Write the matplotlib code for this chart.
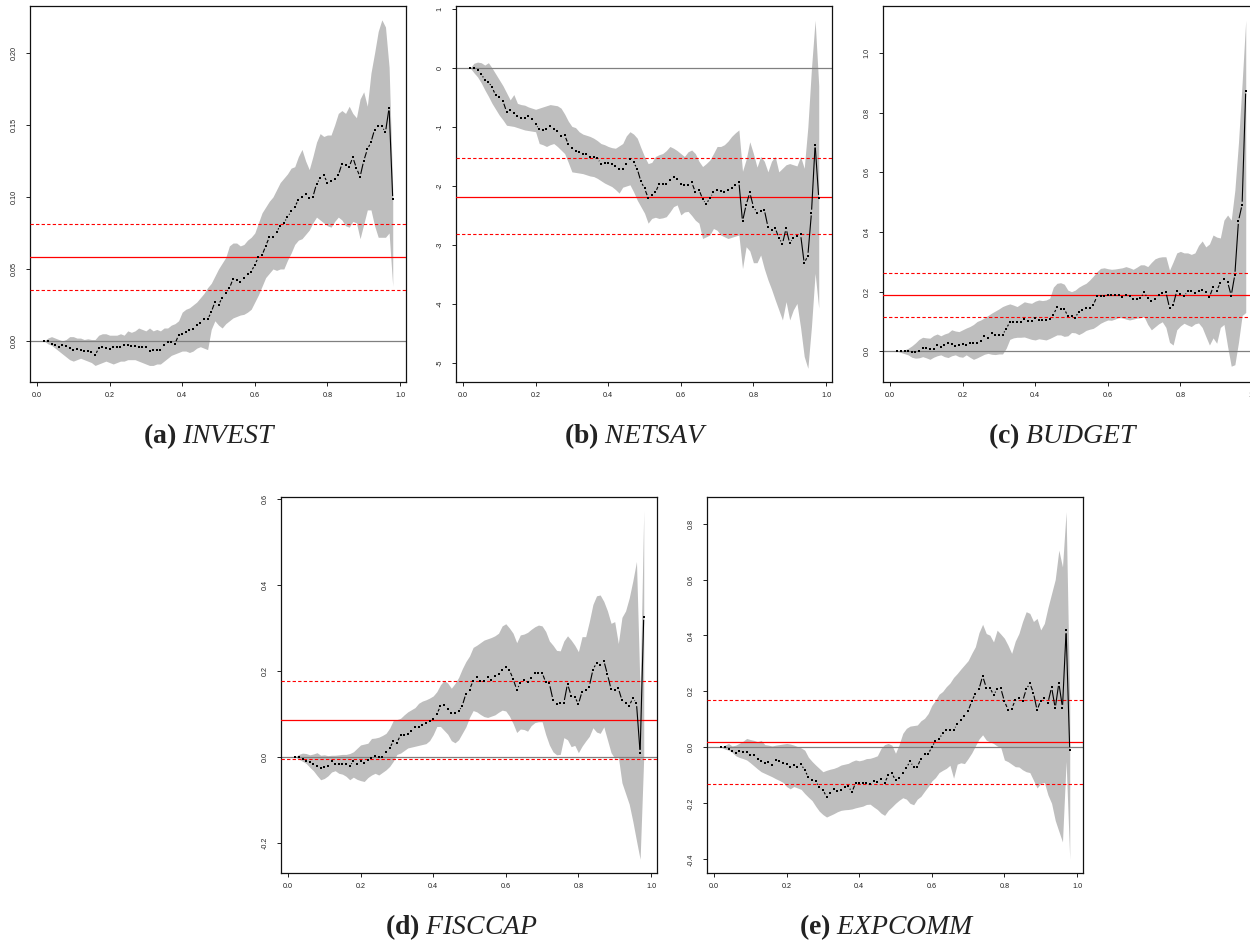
import numpy as np
import matplotlib
matplotlib.use("Agg")
import matplotlib.pyplot as plt
from matplotlib.collections import LineCollection
from matplotlib.transforms import IdentityTransform

plt.rcParams['axes.unicode_minus'] = False
plt.rcParams['mathtext.fontset'] = 'custom'
plt.rcParams['mathtext.rm'] = 'Liberation Serif'
plt.rcParams['mathtext.it'] = 'Liberation Serif:italic'
plt.rcParams['mathtext.bf'] = 'Liberation Serif:bold'

# ---------------- data ----------------
quantiles = np.round(np.arange(2, 99) / 100, 2)   # 0.02 ... 0.98

invest_est = [0.000, 0.000, -0.002, -0.003, -0.004, -0.003, -0.0035, -0.005, -0.006, -0.0055,
              -0.006, -0.007, -0.007, -0.0076, -0.010, -0.005, -0.0044, -0.005, -0.0053, -0.0044,
              -0.004, -0.004, -0.0025, -0.003, -0.0037, -0.0037, -0.004, -0.004, -0.004, -0.007,
              -0.006, -0.006, -0.006, -0.003, -0.001, -0.001, -0.002, 0.004, 0.0046, 0.0065,
              0.0074, 0.0086, 0.011, 0.0125, 0.015, 0.015, 0.020, 0.027, 0.025, 0.030,
              0.033, 0.0366, 0.043, 0.042, 0.041, 0.044, 0.0465, 0.048, 0.053, 0.058,
              0.0595, 0.066, 0.072, 0.0725, 0.0757, 0.080, 0.082, 0.086, 0.090, 0.093,
              0.098, 0.100, 0.102, 0.0995, 0.100, 0.109, 0.113, 0.115, 0.110, 0.111,
              0.1125, 0.115, 0.123, 0.122, 0.121, 0.1275, 0.120, 0.114, 0.125, 0.133,
              0.138, 0.1468, 0.1495, 0.149, 0.145, 0.162, 0.0986]
invest_hi = [0.000, 0.002, 0.003, 0.002, 0.001, 0.000, 0.001, 0.003, 0.003, 0.002,
             0.002, 0.001, 0.0015, 0.001, 0.001, 0.004, 0.005, 0.005, 0.004, 0.004,
             0.004, 0.005, 0.004, 0.007, 0.006, 0.007, 0.009, 0.008, 0.007, 0.009,
             0.007, 0.008, 0.007, 0.009, 0.009, 0.011, 0.012, 0.014, 0.020, 0.022,
             0.023, 0.025, 0.027, 0.030, 0.033, 0.037, 0.040, 0.045, 0.050, 0.054,
             0.058, 0.066, 0.068, 0.068, 0.066, 0.067, 0.070, 0.072, 0.075, 0.082,
             0.089, 0.093, 0.097, 0.100, 0.105, 0.110, 0.113, 0.116, 0.120, 0.121,
             0.128, 0.133, 0.125, 0.119, 0.128, 0.138, 0.144, 0.142, 0.143, 0.143,
             0.150, 0.158, 0.160, 0.158, 0.163, 0.158, 0.155, 0.168, 0.173, 0.163,
             0.186, 0.200, 0.215, 0.223, 0.218, 0.190, 0.105]
invest_lo = [0.000, -0.002, -0.003, -0.005, -0.007, -0.009, -0.011, -0.013, -0.014, -0.013,
             -0.012, -0.013, -0.014, -0.015, -0.017, -0.016, -0.015, -0.014, -0.015, -0.016,
             -0.015, -0.014, -0.014, -0.013, -0.013, -0.013, -0.014, -0.015, -0.016, -0.017,
             -0.017, -0.016, -0.016, -0.014, -0.012, -0.010, -0.009, -0.008, -0.007, -0.007,
             -0.008, -0.007, -0.005, -0.004, -0.005, -0.006, 0.008, 0.014, 0.011, 0.009,
             0.012, 0.014, 0.016, 0.017, 0.018, 0.0185, 0.020, 0.022, 0.027, 0.032,
             0.038, 0.044, 0.047, 0.050, 0.049, 0.050, 0.050, 0.056, 0.061, 0.067,
             0.070, 0.071, 0.074, 0.077, 0.082, 0.086, 0.084, 0.082, 0.080, 0.079,
             0.083, 0.086, 0.084, 0.080, 0.079, 0.083, 0.082, 0.071, 0.081, 0.091,
             0.091, 0.080, 0.072, 0.072, 0.072, 0.075, 0.038]
invest_ref = [0.0815, 0.0583, 0.0352]   # upper, mean, lower

netsav_est = [0.00, 0.00, -0.04, -0.10, -0.20, -0.23, -0.33, -0.46, -0.49, -0.56,
              -0.74, -0.71, -0.77, -0.82, -0.85, -0.84, -0.82, -0.87, -0.95, -1.04,
              -1.05, -1.03, -0.99, -1.03, -1.07, -1.15, -1.14, -1.29, -1.36, -1.40,
              -1.42, -1.45, -1.45, -1.50, -1.51, -1.53, -1.62, -1.61, -1.61, -1.63,
              -1.66, -1.71, -1.71, -1.63, -1.55, -1.60, -1.71, -1.92, -2.04, -2.20,
              -2.16, -2.11, -1.97, -1.96, -1.97, -1.89, -1.84, -1.88, -1.96, -1.98,
              -1.99, -1.94, -2.10, -2.06, -2.22, -2.31, -2.20, -2.11, -2.07, -2.08,
              -2.10, -2.07, -2.03, -1.98, -1.93, -2.60, -2.32, -2.11, -2.35, -2.45,
              -2.42, -2.40, -2.69, -2.75, -2.71, -2.88, -2.98, -2.72, -2.97, -2.88,
              -2.84, -2.82, -3.31, -3.18, -2.45, -1.30, -2.20]
netsav_hi = [0.00, 0.08, 0.10, 0.09, 0.05, 0.09, 0.00, -0.10, -0.20, -0.30,
             -0.42, -0.54, -0.45, -0.60, -0.62, -0.63, -0.66, -0.68, -0.70, -0.68,
             -0.66, -0.64, -0.62, -0.63, -0.64, -0.68, -0.78, -0.90, -0.99, -1.01,
             -1.08, -1.12, -1.14, -1.16, -1.19, -1.23, -1.28, -1.30, -1.33, -1.35,
             -1.36, -1.32, -1.28, -1.15, -1.08, -1.12, -1.19, -1.35, -1.50, -1.62,
             -1.60, -1.50, -1.47, -1.45, -1.40, -1.33, -1.36, -1.40, -1.45, -1.50,
             -1.42, -1.39, -1.45, -1.58, -1.67, -1.62, -1.56, -1.45, -1.33, -1.33,
             -1.30, -1.24, -1.16, -1.10, -1.05, -1.75, -1.55, -1.25, -1.45, -1.68,
             -1.50, -1.58, -1.76, -1.58, -1.50, -1.76, -1.70, -1.64, -1.62, -1.64,
             -1.66, -1.50, -1.70, -1.00, 0.00, 0.81, -0.30]
netsav_lo = [0.00, -0.08, -0.15, -0.25, -0.37, -0.48, -0.60, -0.70, -0.80, -0.88,
             -0.97, -0.98, -0.99, -1.01, -1.03, -1.05, -1.06, -1.07, -1.08, -1.28,
             -1.30, -1.33, -1.30, -1.28, -1.33, -1.39, -1.45, -1.60, -1.76, -1.77,
             -1.78, -1.79, -1.81, -1.83, -1.84, -1.87, -1.91, -1.95, -1.98, -2.01,
             -2.06, -2.12, -2.02, -2.00, -1.98, -2.10, -2.24, -2.35, -2.46, -2.63,
             -2.55, -2.53, -2.55, -2.54, -2.52, -2.44, -2.35, -2.32, -2.49, -2.44,
             -2.43, -2.50, -2.58, -2.63, -2.89, -2.86, -2.83, -2.72, -2.75, -2.83,
             -2.86, -2.89, -2.87, -2.85, -2.83, -3.40, -3.03, -3.10, -3.30, -3.30,
             -3.17, -3.40, -3.59, -3.75, -3.93, -4.10, -4.27, -3.96, -4.27, -4.10,
             -3.99, -4.40, -4.89, -5.09, -4.38, -3.48, -4.07]
netsav_ref = [-1.53, -2.18, -2.82]

budget_est = [0.000, 0.000, 0.000, 0.000, -0.002, -0.001, 0.001, 0.012, 0.011, 0.008,
              0.007, 0.020, 0.015, 0.020, 0.028, 0.023, 0.019, 0.020, 0.026, 0.020,
              0.029, 0.029, 0.028, 0.036, 0.051, 0.046, 0.063, 0.053, 0.053, 0.055,
              0.075, 0.098, 0.098, 0.098, 0.098, 0.107, 0.102, 0.102, 0.110, 0.105,
              0.105, 0.105, 0.107, 0.123, 0.147, 0.142, 0.142, 0.118, 0.118, 0.112,
              0.133, 0.140, 0.144, 0.144, 0.155, 0.184, 0.185, 0.185, 0.189, 0.190,
              0.190, 0.188, 0.181, 0.190, 0.184, 0.177, 0.174, 0.178, 0.198, 0.178,
              0.169, 0.175, 0.188, 0.196, 0.199, 0.146, 0.155, 0.202, 0.192, 0.184,
              0.202, 0.202, 0.196, 0.202, 0.206, 0.199, 0.182, 0.215, 0.203, 0.230,
              0.244, 0.232, 0.187, 0.257, 0.437, 0.492, 0.874]
budget_hi = [0.000, 0.002, 0.005, 0.010, 0.018, 0.028, 0.040, 0.047, 0.045, 0.044,
             0.053, 0.058, 0.052, 0.058, 0.062, 0.072, 0.068, 0.066, 0.072, 0.078,
             0.083, 0.090, 0.100, 0.105, 0.112, 0.120, 0.128, 0.135, 0.142, 0.150,
             0.155, 0.159, 0.155, 0.150, 0.158, 0.166, 0.163, 0.161, 0.168, 0.172,
             0.170, 0.172, 0.178, 0.215, 0.228, 0.230, 0.225, 0.205, 0.200, 0.205,
             0.215, 0.222, 0.228, 0.239, 0.252, 0.267, 0.278, 0.280, 0.277, 0.275,
             0.276, 0.278, 0.280, 0.284, 0.280, 0.275, 0.282, 0.290, 0.290, 0.284,
             0.298, 0.310, 0.315, 0.317, 0.317, 0.272, 0.300, 0.330, 0.335, 0.330,
             0.330, 0.325, 0.330, 0.355, 0.370, 0.350, 0.360, 0.390, 0.383, 0.380,
             0.440, 0.457, 0.440, 0.540, 0.700, 0.900, 1.110]
budget_lo = [0.000, -0.004, -0.008, -0.012, -0.020, -0.023, -0.022, -0.018, -0.022, -0.027,
             -0.020, -0.015, -0.012, -0.018, -0.021, -0.015, -0.012, -0.018, -0.020, -0.012,
             -0.020, -0.027, -0.022, -0.016, -0.010, -0.007, -0.010, -0.011, -0.009, -0.009,
             0.010, 0.040, 0.045, 0.047, 0.047, 0.048, 0.044, 0.040, 0.038, 0.042,
             0.040, 0.038, 0.043, 0.049, 0.055, 0.055, 0.050, 0.052, 0.063, 0.062,
             0.056, 0.062, 0.070, 0.074, 0.077, 0.085, 0.094, 0.100, 0.105, 0.104,
             0.108, 0.113, 0.112, 0.108, 0.105, 0.108, 0.111, 0.113, 0.116, 0.090,
             0.072, 0.082, 0.092, 0.099, 0.080, 0.030, 0.021, 0.072, 0.085, 0.094,
             0.088, 0.083, 0.092, 0.095, 0.080, 0.050, 0.021, 0.045, 0.027, 0.080,
             0.090, 0.016, -0.050, -0.045, 0.030, 0.120, 0.130]
budget_ref = [0.264, 0.189, 0.114]

fisccap_est = [0.000, 0.001, -0.004, -0.009, -0.012, -0.017, -0.022, -0.026, -0.023, -0.020,
               -0.010, -0.016, -0.016, -0.016, -0.016, -0.022, -0.009, -0.016, -0.009, -0.013,
               -0.007, -0.003, 0.003, 0.000, 0.001, 0.011, 0.020, 0.037, 0.033, 0.051,
               0.051, 0.053, 0.061, 0.069, 0.069, 0.074, 0.078, 0.083, 0.089, 0.100,
               0.118, 0.122, 0.112, 0.102, 0.103, 0.106, 0.119, 0.147, 0.157, 0.177,
               0.185, 0.176, 0.176, 0.185, 0.178, 0.188, 0.192, 0.202, 0.210, 0.202,
               0.182, 0.157, 0.171, 0.178, 0.174, 0.184, 0.195, 0.195, 0.196, 0.174,
               0.171, 0.133, 0.123, 0.126, 0.126, 0.170, 0.143, 0.140, 0.123, 0.152,
               0.155, 0.164, 0.203, 0.219, 0.213, 0.224, 0.192, 0.158, 0.156, 0.160,
               0.132, 0.126, 0.119, 0.137, 0.125, 0.010, 0.326]
fisccap_hi = [0.000, 0.006, 0.009, 0.008, 0.005, 0.007, 0.010, 0.004, 0.005, 0.003,
              0.004, 0.004, 0.005, 0.006, 0.006, 0.008, 0.012, 0.020, 0.028, 0.030,
              0.032, 0.043, 0.044, 0.046, 0.050, 0.055, 0.067, 0.085, 0.087, 0.090,
              0.098, 0.105, 0.110, 0.115, 0.125, 0.130, 0.133, 0.137, 0.142, 0.152,
              0.168, 0.178, 0.172, 0.160, 0.171, 0.185, 0.205, 0.222, 0.235, 0.255,
              0.260, 0.266, 0.272, 0.275, 0.278, 0.282, 0.288, 0.305, 0.310, 0.300,
              0.288, 0.266, 0.284, 0.286, 0.290, 0.297, 0.303, 0.307, 0.305, 0.292,
              0.270, 0.260, 0.248, 0.247, 0.270, 0.282, 0.272, 0.260, 0.245, 0.280,
              0.280, 0.315, 0.355, 0.375, 0.377, 0.362, 0.340, 0.311, 0.315, 0.264,
              0.325, 0.340, 0.370, 0.410, 0.455, 0.150, 0.573]
fisccap_lo = [0.000, -0.005, -0.010, -0.015, -0.024, -0.032, -0.043, -0.053, -0.050, -0.044,
              -0.035, -0.032, -0.038, -0.040, -0.045, -0.053, -0.047, -0.052, -0.055, -0.057,
              -0.048, -0.042, -0.038, -0.042, -0.036, -0.030, -0.022, -0.010, 0.006, 0.009,
              0.015, 0.021, 0.023, 0.025, 0.027, 0.029, 0.031, 0.038, 0.052, 0.071,
              0.071, 0.062, 0.053, 0.038, 0.033, 0.040, 0.055, 0.070, 0.092, 0.108,
              0.105, 0.099, 0.094, 0.092, 0.095, 0.098, 0.104, 0.109, 0.107, 0.095,
              0.078, 0.057, 0.065, 0.064, 0.060, 0.073, 0.080, 0.082, 0.082, 0.052,
              0.028, 0.012, 0.005, 0.006, 0.045, 0.040, 0.024, 0.027, 0.010, 0.025,
              0.037, 0.048, 0.068, 0.058, 0.055, 0.070, 0.040, 0.010, -0.003, 0.000,
              -0.060, -0.085, -0.110, -0.150, -0.195, -0.238, 0.000]
fisccap_ref = [0.176, 0.086, -0.0054]

expcomm_est = [0.000, 0.000, -0.005, -0.012, -0.021, -0.013, -0.015, -0.017, -0.027, -0.027,
               -0.043, -0.048, -0.056, -0.051, -0.063, -0.045, -0.048, -0.055, -0.058, -0.070,
               -0.064, -0.070, -0.060, -0.082, -0.106, -0.115, -0.121, -0.142, -0.151, -0.177,
               -0.163, -0.148, -0.156, -0.154, -0.142, -0.139, -0.160, -0.127, -0.127, -0.127,
               -0.127, -0.132, -0.120, -0.124, -0.112, -0.127, -0.100, -0.092, -0.118, -0.108,
               -0.090, -0.073, -0.050, -0.070, -0.070, -0.040, -0.023, -0.024, 0.001, 0.023,
               0.030, 0.051, 0.063, 0.063, 0.063, 0.082, 0.099, 0.113, 0.130, 0.165,
               0.192, 0.208, 0.255, 0.214, 0.214, 0.187, 0.208, 0.211, 0.165, 0.135,
               0.139, 0.168, 0.175, 0.165, 0.207, 0.229, 0.195, 0.133, 0.167, 0.175,
               0.160, 0.215, 0.140, 0.230, 0.142, 0.418, -0.010]
expcomm_hi = [0.000, 0.008, 0.014, 0.005, 0.008, 0.015, 0.022, 0.032, 0.028, 0.025,
              0.020, 0.025, 0.010, 0.008, 0.005, 0.008, 0.010, 0.012, 0.014, 0.012,
              0.008, 0.003, -0.002, -0.010, -0.035, -0.050, -0.063, -0.075, -0.087, -0.082,
              -0.078, -0.075, -0.070, -0.063, -0.060, -0.057, -0.050, -0.045, -0.048, -0.045,
              -0.040, -0.039, -0.035, -0.030, -0.004, 0.010, 0.014, 0.008, -0.021, 0.010,
              0.050, 0.068, 0.076, 0.078, 0.080, 0.095, 0.104, 0.121, 0.150, 0.168,
              0.190, 0.200, 0.217, 0.230, 0.250, 0.264, 0.280, 0.295, 0.310, 0.336,
              0.360, 0.410, 0.440, 0.407, 0.401, 0.377, 0.419, 0.405, 0.390, 0.365,
              0.336, 0.380, 0.407, 0.450, 0.485, 0.479, 0.450, 0.461, 0.420, 0.443,
              0.500, 0.550, 0.600, 0.705, 0.645, 0.842, 0.150]
expcomm_lo = [0.000, -0.006, -0.010, -0.018, -0.030, -0.036, -0.040, -0.045, -0.055, -0.066,
              -0.077, -0.087, -0.093, -0.099, -0.105, -0.112, -0.118, -0.125, -0.140, -0.148,
              -0.140, -0.145, -0.150, -0.165, -0.178, -0.190, -0.210, -0.228, -0.240, -0.249,
              -0.243, -0.237, -0.230, -0.225, -0.223, -0.222, -0.220, -0.216, -0.213, -0.210,
              -0.204, -0.203, -0.213, -0.222, -0.235, -0.243, -0.225, -0.213, -0.200, -0.189,
              -0.180, -0.185, -0.200, -0.205, -0.185, -0.175, -0.157, -0.140, -0.120, -0.108,
              -0.090, -0.082, -0.075, -0.064, -0.110, -0.060, -0.055, -0.058, -0.040, -0.020,
              0.005, 0.030, 0.045, 0.026, 0.020, 0.014, 0.005, 0.000, -0.045, -0.051,
              -0.060, -0.069, -0.070, -0.080, -0.087, -0.090, -0.117, -0.145, -0.129, -0.125,
              -0.170, -0.200, -0.261, -0.300, -0.338, -0.050, -0.400]
expcomm_ref = [0.168, 0.019, -0.130]

x_ticks = [0.0, 0.2, 0.4, 0.6, 0.8, 1.0]
x_ticklabels = ["0.0", "0.2", "0.4", "0.6", "0.8", "1.0"]
invest_yticks = [0.00, 0.05, 0.10, 0.15, 0.20]
invest_ylabels = ["0.00", "0.05", "0.10", "0.15", "0.20"]
netsav_yticks = [-5, -4, -3, -2, -1, 0, 1]
netsav_ylabels = ["-5", "-4", "-3", "-2", "-1", "0", "1"]
budget_yticks = [0.0, 0.2, 0.4, 0.6, 0.8, 1.0]
budget_ylabels = ["0.0", "0.2", "0.4", "0.6", "0.8", "1.0"]
fisccap_yticks = [-0.2, 0.0, 0.2, 0.4, 0.6]
fisccap_ylabels = ["-0.2", "0.0", "0.2", "0.4", "0.6"]
expcomm_yticks = [-0.4, -0.2, 0.0, 0.2, 0.4, 0.6, 0.8]
expcomm_ylabels = ["-0.4", "-0.2", "0.0", "0.2", "0.4", "0.6", "0.8"]

captions = ["a", "b", "c", "d", "e"]
names = ["INVEST", "NETSAV", "BUDGET", "FISCCAP", "EXPCOMM"]

# ---------------- layout (pixels) ----------------
W, H = 1250, 942
fig = plt.figure(figsize=(W / 100, H / 100), dpi=100)

# frame: left, top, right, bottom; pixel of x=0; ylim; caption centre x / baseline y
panels = [
    dict(frame=(30, 6, 406, 382), x0=37, ylim=(-0.0285, 0.2326),
         est=invest_est, lo=invest_lo, hi=invest_hi, ref=invest_ref,
         yt=invest_yticks, yl=invest_ylabels, cap=(210, 443)),
    dict(frame=(456, 6, 832, 382), x0=463, ylim=(-5.322, 1.051),
         est=netsav_est, lo=netsav_lo, hi=netsav_hi, ref=netsav_ref,
         yt=netsav_yticks, yl=netsav_ylabels, cap=(636, 443)),
    dict(frame=(883, 6, 1259, 382), x0=890, ylim=(-0.103, 1.158),
         est=budget_est, lo=budget_lo, hi=budget_hi, ref=budget_ref,
         yt=budget_yticks, yl=budget_ylabels, cap=(1063, 443)),
    dict(frame=(281, 497, 657, 873), x0=288, ylim=(-0.270, 0.605),
         est=fisccap_est, lo=fisccap_lo, hi=fisccap_hi, ref=fisccap_ref,
         yt=fisccap_yticks, yl=fisccap_ylabels, cap=(461, 934)),
    dict(frame=(707, 497, 1083, 873), x0=714, ylim=(-0.449, 0.895),
         est=expcomm_est, lo=expcomm_lo, hi=expcomm_hi, ref=expcomm_ref,
         yt=expcomm_yticks, yl=expcomm_ylabels, cap=(887, 934)),
]

PX_PER_UNIT = 363.0


def draw_type_b(ax, x, y, gap=2.9, lw=0.8):
    """R-style type='b': points joined by segments that stop short of points."""
    pts = ax.transData.transform(np.column_stack([x, y]))
    segs = []
    for p, q in zip(pts[:-1], pts[1:]):
        d = q - p
        L = float(np.hypot(d[0], d[1]))
        if L > 2 * gap + 0.5:
            u = d / L
            segs.append([p + u * gap, q - u * gap])
    lc = LineCollection(segs, colors="black", linewidths=lw,
                        transform=IdentityTransform(), zorder=5)
    ax.add_collection(lc, autolim=False)
    ax.plot(x, y, ls="none", marker="s", ms=1.6, mew=0, color="black", zorder=6)


for i, p in enumerate(panels):
    l, t, r, b = p["frame"]
    ax = fig.add_axes([l / W, 1 - b / H, (r - l) / W, (b - t) / H])
    xlim = ((l - p["x0"]) / PX_PER_UNIT, (r - p["x0"]) / PX_PER_UNIT)
    ax.set_xlim(*xlim)
    ax.set_ylim(*p["ylim"])

    est = np.asarray(p["est"])
    lo = np.asarray(p["lo"])
    hi = np.asarray(p["hi"])
    assert len(est) == len(lo) == len(hi) == len(quantiles)

    ax.fill_between(quantiles, lo, hi, color="#BEBEBE", lw=0, zorder=1)
    ax.axhline(0, color="#808080", lw=0.9, zorder=2)
    up, mean, dn = p["ref"]
    ax.axhline(mean, color="red", lw=0.9, zorder=3)
    ax.axhline(up, color="red", lw=0.8, ls=(0, (3, 2)), zorder=3)
    ax.axhline(dn, color="red", lw=0.8, ls=(0, (3, 2)), zorder=3)
    draw_type_b(ax, quantiles, est)

    ax.set_xticks(x_ticks)
    ax.set_xticklabels(x_ticklabels, fontsize=5.2, family="Liberation Sans")
    ax.set_yticks(p["yt"])
    ax.set_yticklabels(p["yl"], fontsize=5.2, family="Liberation Sans",
                       rotation=90, va="center")
    ax.tick_params(axis="x", direction="out", length=3, width=0.7, pad=4.5, colors="#222222")
    ax.tick_params(axis="y", direction="out", length=3, width=0.7, pad=6.0, colors="#222222")
    for s in ax.spines.values():
        s.set_linewidth(0.9)
        s.set_color("#111111")

    cx, cy = p["cap"]
    fig.text(cx / W, 1 - cy / H,
             r"$\mathbf{(" + captions[i] + r")}\ \mathit{" + names[i] + r"}$",
             ha="center", va="baseline", fontsize=20, color="#222222")

fig.savefig("out.png", dpi=100)
